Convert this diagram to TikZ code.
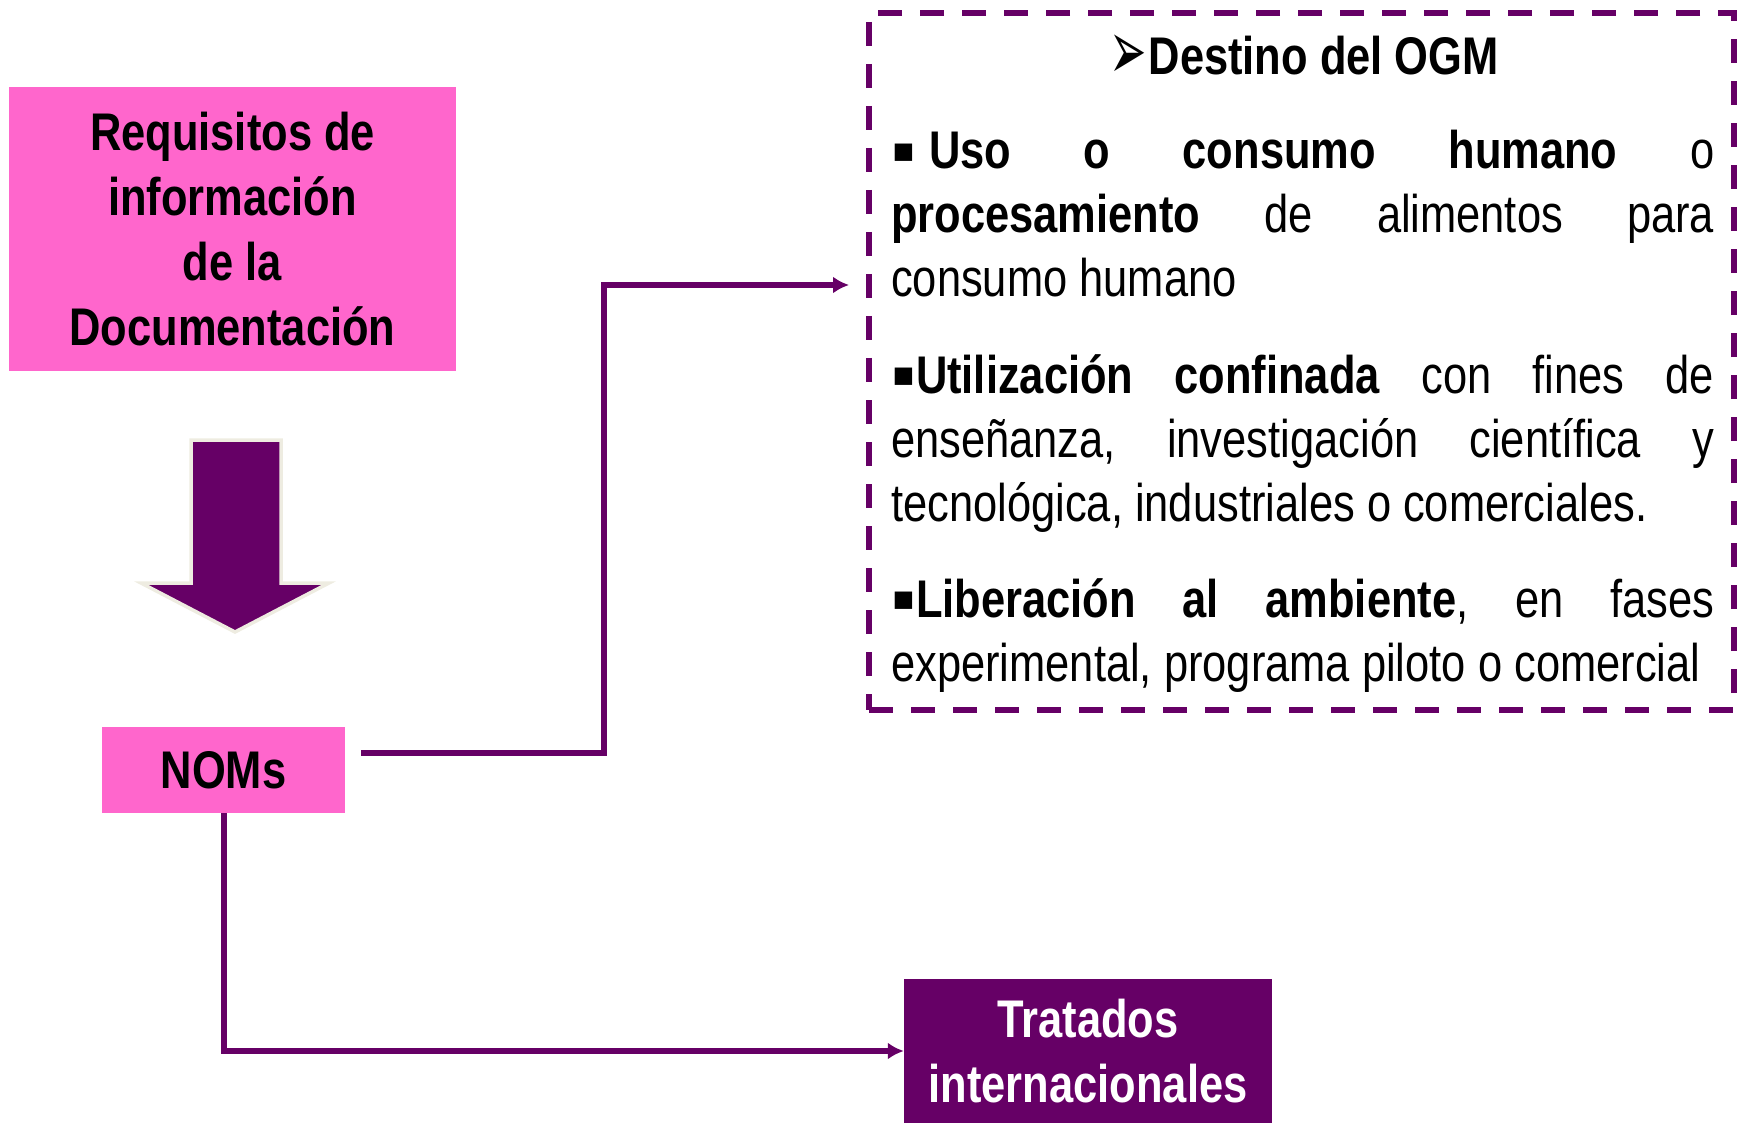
\documentclass[tikz,border=0pt]{standalone}
\usepackage{graphicx}
\usepackage{fontspec}
\setmainfont[FakeStretch=0.82]{Liberation Sans}
\newfontfamily\dejavu{DejaVu Sans}
\newfontfamily\bulletfont{Liberation Sans}
\usetikzlibrary{arrows.meta}
\definecolor{pinkbox}{HTML}{FF66CC}
\definecolor{plum}{HTML}{660066}
\definecolor{beigeline}{HTML}{EEECE1}
\newcommand\bigfont{\fontsize{53}{65}\selectfont}
\newcommand\sqbul{{\bulletfont\fontsize{70}{70}\selectfont\raisebox{-5.5pt}{▪}}}
\begin{document}
\begin{tikzpicture}[x=1pt,y=-1pt,
  filledbox/.style={inner sep=0pt, align=center, font=\bigfont\bfseries},
  conn/.style={draw=plum, line width=6pt},
  arrowend/.style={-{Latex[length=16pt,width=17pt]}},
  bodyline/.style={anchor=base west, inner sep=0pt, font=\bigfont},
]
\useasboundingbox (0,0) rectangle (1740,1123);

% boxes
\node[filledbox, fill=pinkbox, minimum width=447pt, minimum height=284pt] (req) at (232.5,229)
  {Requisitos de\\información\\de la\\Documentación};
\node[filledbox, fill=pinkbox, minimum width=243pt, minimum height=86pt] (noms) at (223.5,770) {NOMs};
\node[filledbox, fill=plum, text=white, minimum width=368pt, minimum height=144pt] (trat) at (1088,1051)
  {Tratados\\internacionales};
\node[draw=plum, line width=5.7pt, dash pattern=on 24pt off 18pt, minimum width=865pt, minimum height=697pt, inner sep=0pt] (dest) at (1301.5,361.5) {};

% big arrow
\draw[fill=plum, draw=beigeline, line width=3.5pt, line join=miter]
  (191,440) -- (281,440) -- (281,583) -- (329,583) -- (235,632) -- (141,583) -- (191,583) -- cycle;

% destination text
\node[anchor=base, inner sep=0pt, font=\bigfont\bfseries] (title) at (1304,74.5)
  {{\dejavu\fontsize{62}{62}\selectfont\raisebox{-5pt}{\scalebox{0.72}[1.35]{➢}}}\kern2pt Destino del OGM};
\node[bodyline] (l1) at (891,169) {\makebox[823pt]{\textbf{\sqbul\kern13pt Uso\hfill o\hfill consumo\hfill humano}\hfill o}};
\node[bodyline] (l2) at (891,233) {\makebox[823pt]{\textbf{procesamiento}\hfill de\hfill alimentos\hfill para}};
\node[bodyline] (l3) at (891,297) {consumo humano};
\node[bodyline] (l4) at (891,393) {\makebox[823pt]{\textbf{\sqbul Utilización\hfill confinada}\hfill con\hfill fines\hfill de}};
\node[bodyline] (l5) at (891,457) {\makebox[823pt]{enseñanza,\hfill investigación\hfill científica\hfill y}};
\node[bodyline] (l6) at (891,521) {tecnológica, industriales o comerciales.};
\node[bodyline] (l7) at (891,617) {\makebox[823pt]{\textbf{\sqbul Liberación\hfill al\hfill ambiente},\hfill en\hfill fases}};
\node[bodyline] (l8) at (891,681) {experimental, programa piloto o comercial};

% connectors
\coordinate (nomsout) at ([xshift=16pt,yshift=17pt]noms.east);
\coordinate (desin) at (849,285);
\draw[conn, arrowend] (nomsout) -| (604,285) -- (desin);
\draw[conn, arrowend] (noms.south) |- (trat.west);
\end{tikzpicture}
\end{document}
